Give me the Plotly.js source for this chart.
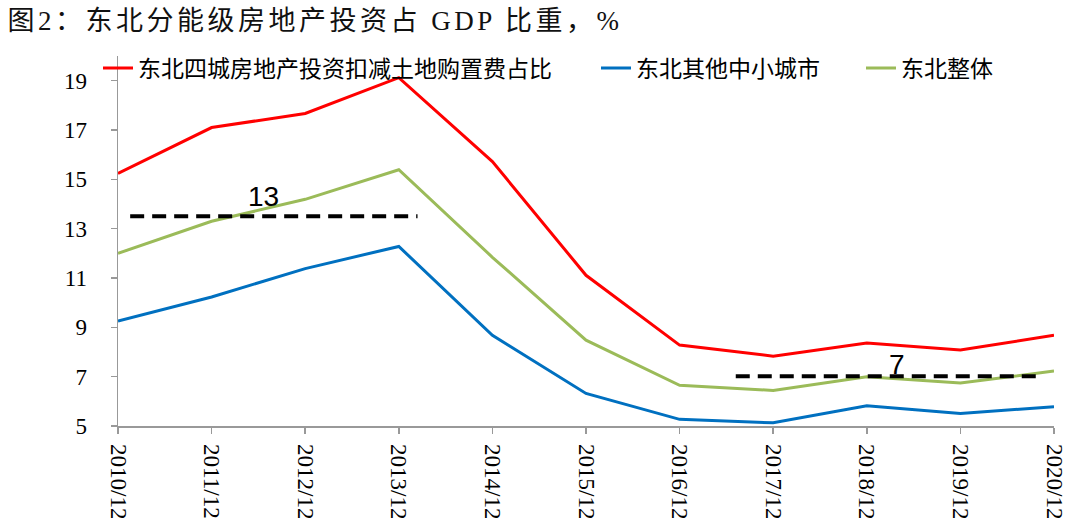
<!DOCTYPE html>
<html>
<head>
<meta charset="utf-8">
<script src="https://cdn.plot.ly/plotly-3.0.1.min.js"></script>
<style>
html,body{margin:0;padding:0;background:#fff;}
#chart{width:1080px;height:518px;}
.gtitle{letter-spacing:3.5px;}
</style>
</head>
<body>
<div id="chart"></div>
<script>
// ---- data ----
const categories = ['2010/12','2011/12','2012/12','2013/12','2014/12','2015/12','2016/12','2017/12','2018/12','2019/12','2020/12'];
const seriesNames = ['东北四城房地产投资扣减土地购置费占比','东北其他中小城市','东北整体'];
const fourCities = [15.24, 17.1, 17.67, 19.12, 15.72, 11.11, 8.28, 7.83, 8.36, 8.08, 8.68];
const otherCities = [9.25, 10.23, 11.38, 12.28, 8.68, 6.32, 5.27, 5.13, 5.82, 5.51, 5.78];
const northeastTotal = [12.0, 13.3, 14.19, 15.39, 11.84, 8.48, 6.65, 6.44, 7.0, 6.74, 7.23];
const refLevels = [13.5, 7.02];
const refLabels = ['13', '7'];
const yTicks = [5, 7, 9, 11, 13, 15, 17, 19];

const colors = ['#FF0000', '#0070C0', '#9BBB59'];
const allSeries = [fourCities, otherCities, northeastTotal];
const legendIds = ['legend', 'legend2', 'legend3'];

const traces = allSeries.map((vals, i) => ({
  type: 'scatter', mode: 'lines',
  x: categories, y: vals, name: seriesNames[i],
  line: {color: colors[i], width: 3},
  legend: legendIds[i]
}));

const legendFont = {family: 'Noto Sans CJK SC, sans-serif', size: 23, color: '#000'};
function mkLegend(xpx) {
  return {
    x: (xpx - 118) / 936, xanchor: 'left',
    y: (426 - 68) / 370, yanchor: 'middle',
    orientation: 'h', bgcolor: 'rgba(0,0,0,0)', borderwidth: 0,
    font: legendFont
  };
}

// reference dashed lines (spans given in category index units)
const refSpans = [[0.13, 3.2], [6.6, 9.83]];
const shapes = refLevels.map((lv, i) => ({
  type: 'line', xref: 'x', yref: 'y',
  x0: refSpans[i][0], x1: refSpans[i][1], y0: lv, y1: lv,
  line: {color: '#000', width: 4, dash: '14px,8px'}
}));
const labelPos = [[1.55, 14.31], [8.32, 7.51]];
const annotations = refLabels.map((t, i) => ({
  x: labelPos[i][0], y: labelPos[i][1], xref: 'x', yref: 'y',
  text: t, showarrow: false,
  font: {family: 'Liberation Sans, Arial, sans-serif', size: 28, color: '#000'}
}));

const layout = {
  width: 1080, height: 518,
  paper_bgcolor: '#fff', plot_bgcolor: '#fff',
  margin: {l: 118, r: 26, t: 56, b: 92},
  title: {
    text: '图2：东北分能级房地产投资占 GDP 比重，%',
    x: 0.007, xanchor: 'left', xref: 'container',
    y: 0.96, yanchor: 'middle', yref: 'container',
    font: {family: 'Liberation Serif, Noto Sans CJK SC, serif', size: 27, color: '#111'}
  },
  showlegend: true,
  legend: mkLegend(98),
  legend2: mkLegend(596),
  legend3: mkLegend(861),
  xaxis: {
    type: 'category', range: [0, 10],
    showgrid: false, zeroline: false,
    showline: true, linecolor: '#999', linewidth: 1.5,
    ticks: 'outside', ticklen: 6, tickcolor: '#999', tickwidth: 1.5,
    tickangle: 90, ticklabelstandoff: 6,
    tickfont: {family: 'Liberation Serif, Times New Roman, serif', size: 23, color: '#000'}
  },
  yaxis: {
    range: [5, 20], tickvals: yTicks,
    showgrid: false, zeroline: false,
    showline: true, linecolor: '#999', linewidth: 1.5,
    ticks: 'outside', ticklen: 6, tickcolor: '#999', tickwidth: 1.5,
    ticklabelstandoff: 19,
    tickfont: {family: 'Liberation Serif, Times New Roman, serif', size: 23, color: '#000'}
  },
  shapes: shapes,
  annotations: annotations
};

Plotly.newPlot('chart', traces, layout, {displayModeBar: false, staticPlot: true});
</script>
</body>
</html>
